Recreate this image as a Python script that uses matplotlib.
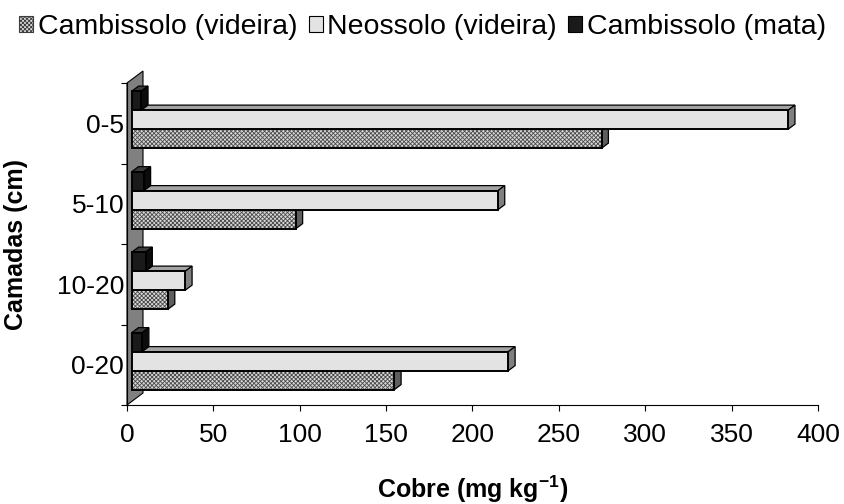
import matplotlib
matplotlib.use("Agg")
import matplotlib.pyplot as plt
from matplotlib.patches import Polygon, Patch

plt.rcParams["font.family"] = ["Liberation Sans", "DejaVu Sans"]
plt.rcParams["mathtext.fontset"] = "custom"
plt.rcParams["mathtext.rm"] = "Liberation Sans"
plt.rcParams["mathtext.bf"] = "Liberation Sans:bold"
plt.rcParams["hatch.linewidth"] = 0.6

# Copper content per soil layer
camadas = ["0-5", "5-10", "10-20", "0-20"]
cambissolo_videira = [272, 95, 21, 152]
neossolo_videira = [380, 212, 31, 218]
cambissolo_mata = [5.5, 7, 8, 6]
x_ticks = [0, 50, 100, 150, 200, 250, 300, 350, 400]
serie_nomes = ["Cambissolo (videira)", "Neossolo (videira)", "Cambissolo (mata)"]

FW, FH, DPI = 845, 504, 100
fig = plt.figure(figsize=(FW / DPI, FH / DPI), dpi=DPI)

# plot frame in pixels (front plane of the 3-D box)
PL, PR, PT, PB = 127, 818, 83, 405
ax = fig.add_axes([PL / FW, (FH - PB) / FH, (PR - PL) / FW, (PB - PT) / FH])
n = len(camadas)
ax.set_xlim(x_ticks[0], x_ticks[-1])
ax.set_ylim(n, 0)

sx = (PR - PL) / (x_ticks[-1] - x_ticks[0])   # px per data unit (x)
sy = (PB - PT) / n                             # px per category (y)
DEPTH_X, DEPTH_Y = 16.0, 12.0                  # full depth of the box, px


def depth(d):
    """Data offset for a fraction d of the box depth."""
    return d * DEPTH_X / sx, -d * DEPTH_Y / sy


# side wall
wx, wy = depth(1.0)
ax.add_patch(Polygon([(0, n), (0, 0), (wx, wy), (wx, n + wy)], closed=True,
                     facecolor="#808080", edgecolor="black", lw=0.8,
                     clip_on=False, zorder=1))

# bar geometry
f0, f1 = 0.30, 0.72
ox0, oy0 = depth(f0)
dxb, dyb = depth(f1 - f0)
h = 19.0 / sy

styles = [
    dict(front="#d8d8d8", hatch="xxxxxxxx", hcol="#4a4a4a", top="#8a8a8a", side="#5e5e5e", shift=+1),
    dict(front="#e3e3e3", hatch=None, hcol=None, top="#a3a3a3", side="#808080", shift=0),
    dict(front="#1a1a1a", hatch=None, hcol=None, top="#3a3a3a", side="#0c0c0c", shift=-1),
]
series = [cambissolo_videira, neossolo_videira, cambissolo_mata]

for k, (vals, st) in enumerate(zip(series, styles)):
    z = 2 + k
    centers = [i + 0.5 + st["shift"] * h + oy0 for i in range(n)]
    for yc, v in zip(centers, vals):
        x1 = ox0 + v
        yt, yb = yc - h / 2, yc + h / 2
        ax.add_patch(Polygon([(ox0, yt), (x1, yt), (x1 + dxb, yt + dyb), (ox0 + dxb, yt + dyb)],
                             closed=True, facecolor=st["top"], edgecolor="black",
                             lw=0.9, zorder=z, clip_on=False))
        ax.add_patch(Polygon([(x1, yb), (x1, yt), (x1 + dxb, yt + dyb), (x1 + dxb, yb + dyb)],
                             closed=True, facecolor=st["side"], edgecolor="black",
                             lw=0.9, zorder=z, clip_on=False))
    if st["hatch"]:
        ax.barh(centers, vals, height=h, left=ox0, color=st["front"],
                hatch=st["hatch"], edgecolor=st["hcol"], lw=0, zorder=z)
        ax.barh(centers, vals, height=h, left=ox0, fill=False,
                edgecolor="black", lw=1.4, zorder=z)
    else:
        ax.barh(centers, vals, height=h, left=ox0, color=st["front"],
                edgecolor="black", lw=1.4, zorder=z)

# axes
for s in ("top", "right"):
    ax.spines[s].set_visible(False)
for s in ("left", "bottom"):
    ax.spines[s].set_linewidth(0.8)
    ax.spines[s].set_zorder(6)

ax.set_xticks(x_ticks)
ax.set_xticklabels([str(t) for t in x_ticks])
ax.tick_params(axis="x", length=4, width=0.8, labelsize=19, pad=9)

ax.set_yticks(range(n + 1))
ax.set_yticklabels([""] * (n + 1))
ax.set_yticks([i + 0.5 for i in range(n)], minor=True)
ax.set_yticklabels(camadas, minor=True)
ax.tick_params(axis="y", which="major", length=4.5, width=0.8)
ax.tick_params(axis="y", which="minor", length=0, labelsize=19, pad=2)

ax.set_ylabel("Camadas (cm)", fontsize=18, fontweight="bold")
ax.yaxis.set_label_coords((28 - PL) / (PR - PL), 0.5)
ax.set_xlabel(r"Cobre (mg kg$^{\mathbf{-1}}$)", fontsize=18, fontweight="bold")
ax.xaxis.set_label_coords(0.5, (PB - 474) / (PB - PT))

handles = [
    Patch(facecolor="#d8d8d8", hatch="xxxxxxxx", edgecolor="#3c3c3c", lw=0.8),
    Patch(facecolor="#e3e3e3", edgecolor="black", lw=0.8),
    Patch(facecolor="#1a1a1a", edgecolor="black", lw=0.8),
]
fig.legend(handles, serie_nomes, loc="upper center", bbox_to_anchor=(0.5, 1.0),
           ncol=3, frameon=False, fontsize=20.5, handlelength=0.5, handleheight=0.5,
           handletextpad=0.15, columnspacing=0.4, borderaxespad=0.1)

fig.savefig("out.png", dpi=DPI)
